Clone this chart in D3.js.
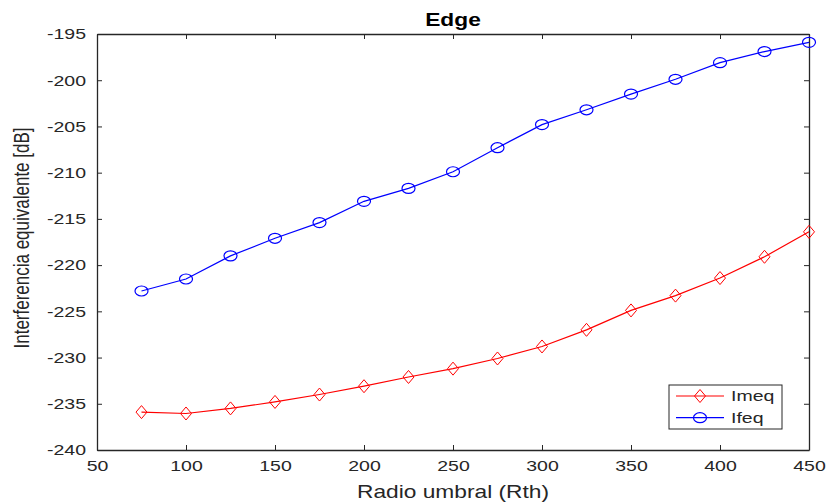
<!DOCTYPE html>
<html>
<head>
<meta charset="utf-8">
<script src="https://cdn.jsdelivr.net/npm/d3@7"></script>
<style>
  body { margin: 0; background: #fff; }
  text { font-family: "Liberation Sans", Arial, sans-serif; fill: #262626; }
</style>
</head>
<body>
<div id="chart"></div>
<script>
// Data
const radio = [75, 100, 125, 150, 175, 200, 225, 250, 275, 300, 325, 350, 375, 400, 425, 450];
const imeq = [-235.9, -236.05, -235.5, -234.8, -234.0, -233.1, -232.1, -231.2, -230.1, -228.8,
              -227.0, -224.9, -223.3, -221.4, -219.1, -216.4];
const ifeq = [-222.8, -221.5, -219.0, -217.1, -215.4, -213.1, -211.7, -209.9, -207.3, -204.8,
              -203.2, -201.5, -199.9, -198.1, -196.9, -195.9];
const xTicks = [50, 100, 150, 200, 250, 300, 350, 400, 450];
const yTicks = [-240, -235, -230, -225, -220, -215, -210, -205, -200, -195];

const series = [
    { name: 'Imeq', values: imeq, color: '#ff0000', marker: 'diamond' },
    { name: 'Ifeq', values: ifeq, color: '#0000ff', marker: 'circle' }
];

const width = 828, height = 502;
const mLeft = 97, mRight = 809, mTop = 34, mBottom = 450;
const sx = 1.3; // text in the reference is drawn horizontally wide

const svg = d3.select('#chart').append('svg')
    .attr('width', width)
    .attr('height', height);

svg.append('rect').attr('width', width).attr('height', height).attr('fill', '#fff');

const x = d3.scaleLinear().domain([50, 450]).range([mLeft, mRight]);
const y = d3.scaleLinear().domain([-240, -195]).range([mBottom, mTop]);
const plain = d => String(d); // hyphen minus like MATLAB

// Axes with inward ticks on all four sides
function styleAxis(g) {
    g.select('.domain').attr('stroke', '#262626').attr('stroke-width', 1.3);
    g.selectAll('.tick line').attr('stroke', '#262626').attr('stroke-width', 1);
    g.selectAll('.tick text')
        .attr('font-size', 15)
        .attr('fill', '#262626')
        .attr('font-family', '"Liberation Sans", Arial, sans-serif')
        .attr('x', function () { return (+d3.select(this).attr('x') || 0) / sx; })
        .attr('transform', `scale(${sx},1)`);
}

svg.append('g')
    .attr('transform', `translate(0,${mBottom})`)
    .call(d3.axisBottom(x).tickValues(xTicks).tickFormat(plain).tickSize(-5).tickSizeOuter(0).tickPadding(10))
    .call(styleAxis);

svg.append('g')
    .attr('transform', `translate(${mLeft},0)`)
    .call(d3.axisLeft(y).tickValues(yTicks).tickFormat(plain).tickSize(-5).tickSizeOuter(0).tickPadding(11))
    .call(styleAxis);

svg.append('g')
    .attr('transform', `translate(0,${mTop})`)
    .call(d3.axisTop(x).tickValues(xTicks).tickSize(-5).tickSizeOuter(0).tickFormat(''))
    .call(styleAxis);

svg.append('g')
    .attr('transform', `translate(${mRight},0)`)
    .call(d3.axisRight(y).tickValues(yTicks).tickSize(-5).tickSizeOuter(0).tickFormat(''))
    .call(styleAxis);

// Lines and markers
const line = d3.line()
    .x((d, i) => x(radio[i]))
    .y(d => y(d));

function drawMarker(g, type, color) {
    if (type === 'diamond') {
        g.append('path')
            .attr('d', 'M0,-6.5L5.5,0L0,6.5L-5.5,0Z')
            .attr('fill', 'none').attr('stroke', color).attr('stroke-width', 1);
    } else {
        g.append('ellipse')
            .attr('rx', 6.5).attr('ry', 5)
            .attr('fill', 'none').attr('stroke', color).attr('stroke-width', 1.2);
    }
}

series.forEach(s => {
    svg.append('path')
        .datum(s.values)
        .attr('d', line)
        .attr('fill', 'none')
        .attr('stroke', s.color)
        .attr('stroke-width', 1.2);

    svg.append('g').selectAll('g')
        .data(s.values)
        .enter()
        .append('g')
        .attr('transform', (d, i) => `translate(${x(radio[i])},${y(d)})`)
        .each(function () { drawMarker(d3.select(this), s.marker, s.color); });
});

// Title and axis labels
svg.append('text')
    .attr('transform', `translate(${(mLeft + mRight) / 2},26) scale(${sx},1)`)
    .attr('text-anchor', 'middle')
    .attr('font-size', 17.5)
    .attr('font-weight', 'bold')
    .style('fill', '#000')
    .text('Edge');

svg.append('text')
    .attr('transform', `translate(${(mLeft + mRight) / 2},498) scale(${sx},1)`)
    .attr('text-anchor', 'middle')
    .attr('font-size', 17.5)
    .text('Radio umbral (Rth)');

svg.append('text')
    .attr('transform', `translate(29,${(mTop + mBottom) / 2 - 4}) rotate(-90) scale(1,${sx})`)
    .attr('text-anchor', 'middle')
    .attr('font-size', 17)
    .text('Interferencia equivalente [dB]');

// Legend
const legend = svg.append('g').attr('transform', 'translate(669,385)');
legend.append('rect')
    .attr('width', 113).attr('height', 44)
    .attr('fill', '#fff').attr('stroke', '#262626').attr('stroke-width', 1);

series.forEach((s, i) => {
    const row = legend.append('g').attr('transform', `translate(0,${11 + i * 21.7})`);
    row.append('line')
        .attr('x1', 7).attr('x2', 55)
        .attr('stroke', s.color).attr('stroke-width', 1.2);
    drawMarker(row.append('g').attr('transform', 'translate(31,0)'), s.marker, s.color);
    row.append('text')
        .attr('transform', `translate(62,5) scale(${sx},1)`)
        .attr('font-size', 15)
        .text(s.name);
});
</script>
</body>
</html>
